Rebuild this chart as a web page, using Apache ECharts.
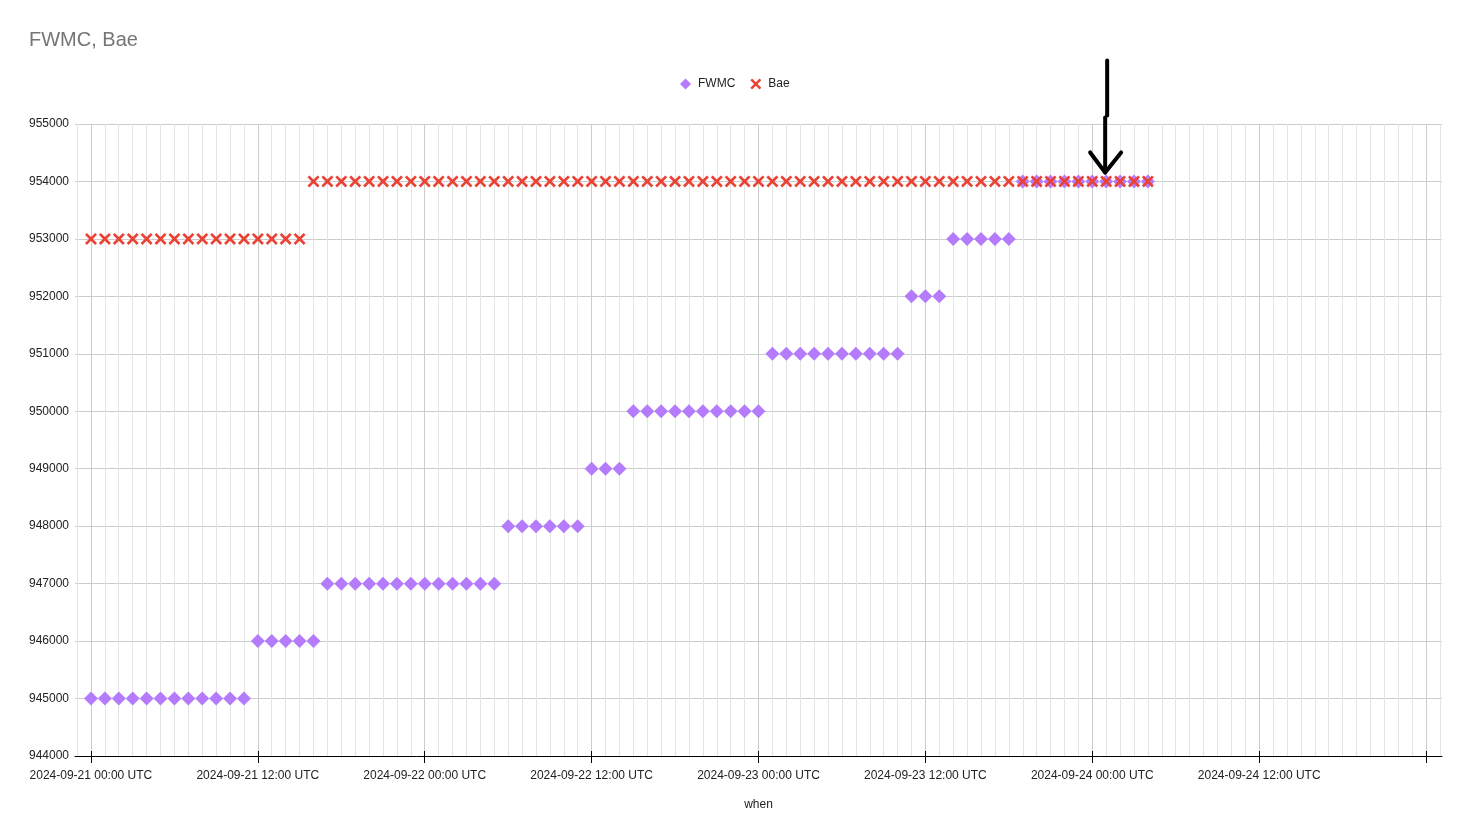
<!DOCTYPE html>
<html>
<head>
<meta charset="utf-8">
<script src="https://cdn.jsdelivr.net/npm/echarts@6/dist/echarts.min.js"></script>
<style>
  html, body { margin: 0; padding: 0; background: #fff; }
  #chart { width: 1467px; height: 816px; }
</style>
</head>
<body>
<div id="chart"></div>
<script>
// ---------- DATA ----------
const chartTitle = 'FWMC, Bae';
const xAxisName = 'when';
const seriesNames = ['FWMC', 'Bae'];
// hours since 2024-09-21 00:00 UTC, one reading per hour
const hours = [
  0, 1, 2, 3, 4, 5, 6, 7, 8, 9, 10, 11, 12, 13, 14, 15, 16, 17, 18, 19,
  20, 21, 22, 23, 24, 25, 26, 27, 28, 29, 30, 31, 32, 33, 34, 35, 36, 37, 38, 39,
  40, 41, 42, 43, 44, 45, 46, 47, 48, 49, 50, 51, 52, 53, 54, 55, 56, 57, 58, 59,
  60, 61, 62, 63, 64, 65, 66, 67, 68, 69, 70, 71, 72, 73, 74, 75, 76
];
const fwmcValues = [
  945000, 945000, 945000, 945000, 945000, 945000, 945000, 945000, 945000, 945000, 945000, 945000,
  946000, 946000, 946000, 946000, 946000,
  947000, 947000, 947000, 947000, 947000, 947000, 947000, 947000, 947000, 947000, 947000, 947000, 947000,
  948000, 948000, 948000, 948000, 948000, 948000,
  949000, 949000, 949000,
  950000, 950000, 950000, 950000, 950000, 950000, 950000, 950000, 950000, 950000,
  951000, 951000, 951000, 951000, 951000, 951000, 951000, 951000, 951000, 951000,
  952000, 952000, 952000,
  953000, 953000, 953000, 953000, 953000,
  954000, 954000, 954000, 954000, 954000, 954000, 954000, 954000, 954000, 954000
];
const baeValues = [
  953000, 953000, 953000, 953000, 953000, 953000, 953000, 953000, 953000, 953000, 953000, 953000, 953000, 953000, 953000, 953000,
  954000, 954000, 954000, 954000, 954000, 954000, 954000, 954000, 954000, 954000, 954000, 954000, 954000, 954000, 954000, 954000,
  954000, 954000, 954000, 954000, 954000, 954000, 954000, 954000, 954000, 954000, 954000, 954000, 954000, 954000, 954000, 954000,
  954000, 954000, 954000, 954000, 954000, 954000, 954000, 954000, 954000, 954000, 954000, 954000, 954000, 954000, 954000, 954000,
  954000, 954000, 954000, 954000, 954000, 954000, 954000, 954000, 954000, 954000, 954000, 954000, 954000
];
// x-axis: major ticks every 12 hours
const majorTickHours = [0, 12, 24, 36, 48, 60, 72, 84, 96];
const tickLabels = [
  '2024-09-21 00:00 UTC', '2024-09-21 12:00 UTC',
  '2024-09-22 00:00 UTC', '2024-09-22 12:00 UTC',
  '2024-09-23 00:00 UTC', '2024-09-23 12:00 UTC',
  '2024-09-24 00:00 UTC', '2024-09-24 12:00 UTC',
  ''
];
const yTicks = [944000, 945000, 946000, 947000, 948000, 949000, 950000, 951000, 952000, 953000, 954000, 955000];
// annotation arrow points at this reading
const arrowTarget = [73, 954000];

// ---------- CHART ----------
const FONT = "Arial, 'Liberation Sans', sans-serif";
const xPath = 'path://M0,1.6 L1.6,0 L5,3.4 L8.4,0 L10,1.6 L6.6,5 L10,8.4 L8.4,10 L5,6.6 L1.6,10 L0,8.4 L3.4,5 Z';
const PURPLE = '#b47cfc';
const RED = '#ea4335';

// hourly gridline categories, one hour beyond each end
const gridHours = [];
for (let h = -1; h <= 97; h++) gridHours.push(h);
const minorColors = ['#e4e4e4', '#cccccc', '#e4e4e4', '#e4e4e4', '#e4e4e4', '#e4e4e4',
                     '#e4e4e4', '#e4e4e4', '#e4e4e4', '#e4e4e4', '#e4e4e4', '#e4e4e4'];
const isMajor = (idx) => majorTickHours.indexOf(gridHours[idx]) !== -1;

const chart = echarts.init(document.getElementById('chart'), null, { renderer: 'canvas' });

const option = {
  animation: false,
  backgroundColor: '#ffffff',
  textStyle: { fontFamily: FONT },
  title: {
    text: chartTitle,
    left: 29, top: 30, padding: 0,
    textStyle: { fontSize: 20, fontWeight: 'normal', color: '#757575', fontFamily: FONT }
  },
  legend: {
    top: 73, left: 675,
    itemWidth: 11, itemHeight: 11, itemGap: 15,
    textStyle: { fontSize: 12, color: '#222', fontFamily: FONT, padding: [0, 0, 0, 2] },
    data: [
      { name: seriesNames[0], icon: 'diamond' },
      { name: seriesNames[1], icon: xPath }
    ]
  },
  grid: [
    { left: 75, right: 25, top: 124, bottom: 59, containLabel: false },
    { left: 77, right: 27, top: 124, bottom: 59, containLabel: false }
  ],
  xAxis: [
    {
      gridIndex: 0, type: 'value', min: -1.15, max: 97.15,
      axisLine: { show: true, lineStyle: { color: '#000', width: 1 } },
      axisTick: { show: false }, axisLabel: { show: false }, splitLine: { show: false },
      name: xAxisName, nameLocation: 'middle', nameGap: 43,
      nameTextStyle: { fontSize: 12, color: '#222', fontFamily: FONT }
    },
    {
      gridIndex: 1, type: 'category', data: gridHours, boundaryGap: false, position: 'bottom', offset: 0,
      axisLine: { show: false },
      axisTick: { show: true, interval: (i) => isMajor(i), length: 6, lineStyle: { color: '#000', width: 1 } },
      axisLabel: {
        show: true, interval: (i) => isMajor(i), margin: 13,
        fontSize: 12, color: '#222', fontFamily: FONT,
        formatter: (v) => {
          const k = majorTickHours.indexOf(Number(v));
          return k === -1 ? '' : tickLabels[k];
        }
      },
      splitLine: { show: true, interval: 0, lineStyle: { color: minorColors, width: 1 } }
    },
    {
      gridIndex: 1, type: 'category', data: gridHours, boundaryGap: false, position: 'bottom', offset: 0,
      axisLine: { show: false },
      axisTick: { show: true, inside: true, interval: (i) => isMajor(i), length: 6, lineStyle: { color: '#000', width: 1 } },
      axisLabel: { show: false }, splitLine: { show: false }
    }
  ],
  yAxis: [
    {
      gridIndex: 0, type: 'value', min: yTicks[0], max: yTicks[yTicks.length - 1], interval: 1000,
      axisLine: { show: false }, axisTick: { show: false },
      axisLabel: { fontSize: 12, color: '#222', margin: 6, fontFamily: FONT, formatter: (v) => String(v) },
      splitLine: { show: true, lineStyle: { color: '#cccccc', width: 1 } }
    },
    { gridIndex: 1, type: 'value', min: 0, max: 1, show: false }
  ],
  series: [
    {
      name: seriesNames[0], type: 'scatter', xAxisIndex: 0, yAxisIndex: 0,
      symbol: 'diamond', symbolSize: 14,
      itemStyle: { color: PURPLE, opacity: 1 },
      data: hours.map((h, i) => [h, fwmcValues[i]])
    },
    {
      name: seriesNames[1], type: 'scatter', xAxisIndex: 0, yAxisIndex: 0,
      symbol: xPath, symbolSize: 12,
      itemStyle: { color: RED, opacity: 1 },
      data: hours.map((h, i) => [h, baeValues[i]])
    }
  ]
};

chart.setOption(option);

// hand-drawn style arrow annotation pointing at arrowTarget
const p = chart.convertToPixel({ xAxisIndex: 0, yAxisIndex: 0 }, arrowTarget);
const tipX = p[0] - 1, tipY = p[1] - 9;
chart.setOption({
  graphic: [
    {
      type: 'polyline', silent: true, z: 100,
      shape: { points: [[tipX + 2, tipY - 112], [tipX + 2, tipY - 57]] },
      style: { stroke: '#000', lineWidth: 4, fill: null, lineCap: 'round' }
    },
    {
      type: 'polyline', silent: true, z: 100,
      shape: { points: [[tipX, tipY - 55], [tipX, tipY]] },
      style: { stroke: '#000', lineWidth: 4, fill: null, lineCap: 'round' }
    },
    {
      type: 'polyline', silent: true, z: 100,
      shape: { points: [[tipX - 15, tipY - 20], [tipX, tipY], [tipX + 16, tipY - 20]] },
      style: { stroke: '#000', lineWidth: 4, fill: null, lineCap: 'round', lineJoin: 'round' }
    }
  ]
});
</script>
</body>
</html>
